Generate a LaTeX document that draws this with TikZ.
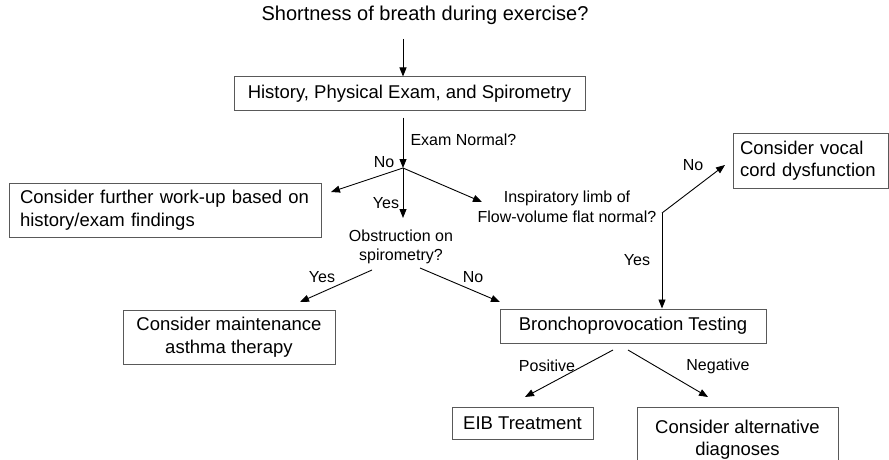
\documentclass[tikz,border=0pt]{standalone}
\usepackage{fontspec}
\setmainfont{Liberation Sans}
\usetikzlibrary{arrows.meta}

\begin{document}
\begin{tikzpicture}[x=1pt, y=-1pt,
  every node/.style={font=\fontsize{16}{19.5}\selectfont},
  box/.style={draw=black!65, line width=1pt, inner sep=0pt, font=\fontsize{18.5}{22.5}\selectfont},
  arr/.style={-{Triangle[length=9pt,width=7pt]}, line width=0.9pt}]
  \useasboundingbox (0,0) rectangle (889,460);
  \clip (0,0) rectangle (889,460);

  % Question and first step
  \node[font=\fontsize{20}{24}\selectfont] (question) at (425,15) {Shortness of breath during exercise?};
  \node[box, minimum width=351, minimum height=33] (history) at (409.5,93.5) {History, Physical Exam, and Spirometry};
  \coordinate (branch) at (403,168);
  \draw[arr] (question.south -| branch) ++(0,11) -- (history.north -| branch);
  \draw[arr, shorten <=7pt] (history.south -| branch) -- (branch);
  \node[anchor=west] (examlbl) at (407,140) {Exam Normal?};

  % Exam not normal
  \node[box, text width=290, inner xsep=11, minimum height=54, align=left] (further) at (165,210)
    {Consider further work-up based on\\history/exam findings};
  \coordinate (furtherend) at (331,192);
  \draw[arr] (branch) -- (furtherend);
  \node (nofurther) at (384,162) {No};

  % Exam normal: obstruction?
  \coordinate (obstrend) at (403,218);
  \draw[arr] (branch) -- (obstrend);
  \node (yesobstr) at (386,203) {Yes};
  \node[align=center] (obstr) at (401,247) {Obstruction on\\spirometry?};

  % Flow-volume loop
  \coordinate (flowend) at (482,202);
  \draw[arr] (branch) -- (flowend);
  \node[align=center] (flow) at (567,207) {Inspiratory limb of\\Flow-volume flat normal?};
  \coordinate (flowcorner) at (662,213);

  % Vocal cord dysfunction
  \node[box, text width=141, inner xsep=7, minimum height=55, align=left] (vocal) at (810.5,160.5)
    {Consider vocal\\cord dysfunction};
  \coordinate (vocalend) at (725,165);
  \draw[arr] (flowcorner) -- (vocalend);
  \node (novocal) at (693,165) {No};

  % Maintenance therapy
  \node[box, minimum width=212, minimum height=54, align=center] (maint) at (229,337)
    {Consider maintenance\\asthma therapy};
  \coordinate (maintstart) at (372,270);
  \coordinate (maintend) at (300,302);
  \draw[arr] (maintstart) -- (maintend);
  \node (yesmaint) at (322,277) {Yes};

  % Bronchoprovocation
  \node[box, minimum width=266, minimum height=34] (broncho) at (633,326) {Bronchoprovocation Testing};
  \coordinate (bronstart) at (420,268);
  \coordinate (bronend) at (500,302);
  \draw[arr] (bronstart) -- (bronend);
  \node (nobron) at (473,277) {No};
  \draw[arr] (flowcorner) -- (broncho.north -| flowcorner);
  \node (yesbron) at (637,260) {Yes};

  % Test outcomes
  \node[box, minimum width=141, minimum height=32] (eib) at (522.5,423) {EIB Treatment};
  \node[box, minimum width=201, minimum height=64, align=center, anchor=north] (altdiag) at (737.5,407)
    {Consider alternative\\diagnoses};
  \coordinate (posstart) at (613,350);
  \coordinate (posend) at (525,397);
  \coordinate (negstart) at (628,350);
  \coordinate (negend) at (708,397);
  \draw[arr] (posstart) -- (posend);
  \draw[arr] (negstart) -- (negend);
  \node (poslbl) at (547,366) {Positive};
  \node (neglbl) at (718,366) {Negative};
\end{tikzpicture}
\end{document}
